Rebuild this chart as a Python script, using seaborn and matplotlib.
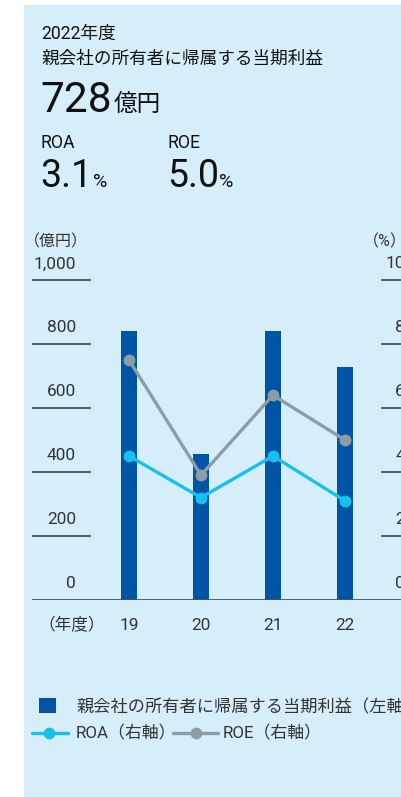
import numpy as np
import pandas as pd
import matplotlib
matplotlib.use("Agg")
import matplotlib.pyplot as plt
from matplotlib.patches import Rectangle
from matplotlib.lines import Line2D
import seaborn as sns

# data
years = ["19", "20", "21", "22"]
profit = [840, 456, 840, 728]        # 親会社の所有者に帰属する当期利益（億円）
roa = [4.5, 3.2, 4.5, 3.1]           # ROA（%）
roe = [7.5, 3.9, 6.4, 5.0]           # ROE（%）
left_ticks = [0, 200, 400, 600, 800, 1000]
left_labels = ["0", "200", "400", "600", "800", "1,000"]
right_ticks = [0, 2, 4, 6, 8, 10]
right_labels = ["0", "2", "4", "6", "8", "10"]

BG = "#d6eef9"
BAR = "#0054a6"
ROA_C = "#18c0f0"
ROE_C = "#8c9ea3"
GRID = "#4d5357"
TXT = "#111111"
LBL = "#333333"

sns.set_theme(style="white")
plt.rcParams["font.family"] = ["Roboto", "Noto Sans CJK JP", "DejaVu Sans"]

W, H = 402, 797
fig = plt.figure(figsize=(W / 100, H / 100), dpi=100)
fig.patch.set_facecolor("white")


def fx(x):
    return x / W


def fy(y):
    return 1 - y / H


# light blue panel (behind the axes)
fig.patches.append(Rectangle((fx(24), 0), 1, fy(5), transform=fig.transFigure,
                             facecolor=BG, edgecolor="none", zorder=-5))

# header
fig.text(fx(41), fy(39), "2022年度", fontsize=12.7, color=TXT, va="baseline")
fig.text(fx(41), fy(64), "親会社の所有者に帰属する当期利益", fontsize=12.7, color=TXT, va="baseline")
fig.text(fx(40), fy(112), "728", fontsize=30.5, color=TXT, va="baseline")
fig.text(fx(114), fy(112), "億円", fontsize=17, color=TXT, va="baseline")
fig.text(fx(41), fy(148), "ROA", fontsize=12.7, color=TXT, va="baseline")
fig.text(fx(168), fy(148), "ROE", fontsize=12.7, color=TXT, va="baseline")
fig.text(fx(40), fy(187), "3.1", fontsize=27, color=TXT, va="baseline")
fig.text(fx(93), fy(187), "%", fontsize=14, color=TXT, va="baseline")
fig.text(fx(167), fy(187), "5.0", fontsize=27, color=TXT, va="baseline")
fig.text(fx(219), fy(187), "%", fontsize=14, color=TXT, va="baseline")

# chart axes: x=0 category at 129px, 72px per category
ax = fig.add_axes([fx(32), fy(600), fx(402 - 32), (600 - 280) / H])
ax.patch.set_visible(False)
x0, step = 129, 72
xlim = ((32 - x0) / step, (402 - x0) / step)

sns.barplot(x=years, y=profit, color=BAR, width=0.21, saturation=1, linewidth=0,
            ax=ax, zorder=3)
ax.set_xlim(xlim)
ax.set_ylim(0, 1000)
for s in ax.spines.values():
    s.set_visible(False)
ax.set_yticks([])
ax.set_xlabel("")
ax.set_ylabel("")
ax.tick_params(axis="x", length=0, pad=13, labelsize=12.4, labelcolor=LBL)

gl_l = ((32 - x0) / step, (91 - x0) / step)
gl_r = ((381 - x0) / step, (460 - x0) / step)
ax.hlines(left_ticks[1:], gl_l[0], gl_l[1], color=GRID, lw=1.3, clip_on=False, zorder=2)
ax.hlines(left_ticks[1:], gl_r[0], gl_r[1], color=GRID, lw=1.3, clip_on=False, zorder=2)
ax.axhline(0, color=GRID, lw=1.3, zorder=4)

for t, lab in zip(left_ticks, left_labels):
    ax.text((76 - x0) / step, t + 50, lab, ha="right", va="center",
            fontsize=12.4, color=LBL)
for t, lab in zip(right_ticks, right_labels):
    ax.text((405 - x0) / step, t * 100 + 50, lab, ha="right", va="center",
            fontsize=12.4, color=LBL, clip_on=False)

fig.text(fx(24), fy(242), "（億円）", fontsize=11.5, color=LBL, va="center")
fig.text(fx(363), fy(242), "（%）", fontsize=11.5, color=LBL, va="center")
fig.text(fx(72), fy(625), "（年度）", fontsize=12, color=LBL, va="center", ha="center")

# lines on right axis
ax2 = ax.twinx()
pos = np.arange(len(years))
sns.lineplot(x=pos, y=roe, color=ROE_C, lw=2.4, marker="o", markersize=8.5,
             markeredgewidth=0, ax=ax2, zorder=5)
sns.lineplot(x=pos, y=roa, color=ROA_C, lw=2.4, marker="o", markersize=8.5,
             markeredgewidth=0, ax=ax2, zorder=6)
ax2.set_ylim(0, 10)
ax2.set_xlim(xlim)
ax.set_xlim(xlim)
for s in ax2.spines.values():
    s.set_visible(False)
ax2.set_yticks([])
ax2.set_ylabel("")

# legend
fig.patches.append(Rectangle((fx(39), fy(713)), fx(17), 15 / H, transform=fig.transFigure,
                             facecolor=BAR, edgecolor="none"))
fig.text(fx(76), fy(707), "親会社の所有者に帰属する当期利益（左軸）", fontsize=12.4,
         color=LBL, va="center")
fig.add_artist(Line2D([fx(32), fx(68)], [fy(733), fy(733)], color=ROA_C, lw=2.4,
                      transform=fig.transFigure))
fig.add_artist(Line2D([fx(49)], [fy(733)], color=ROA_C, marker="o", markersize=8.5,
                      markeredgewidth=0, transform=fig.transFigure))
fig.text(fx(76), fy(733), "ROA（右軸）", fontsize=12.2, color=LBL, va="center")
fig.add_artist(Line2D([fx(173), fx(218)], [fy(733), fy(733)], color=ROE_C, lw=2.4,
                      transform=fig.transFigure))
fig.add_artist(Line2D([fx(196)], [fy(733)], color=ROE_C, marker="o", markersize=8.5,
                      markeredgewidth=0, transform=fig.transFigure))
fig.text(fx(223), fy(733), "ROE（右軸）", fontsize=12.2, color=LBL, va="center")

fig.savefig("out.png", dpi=100)
